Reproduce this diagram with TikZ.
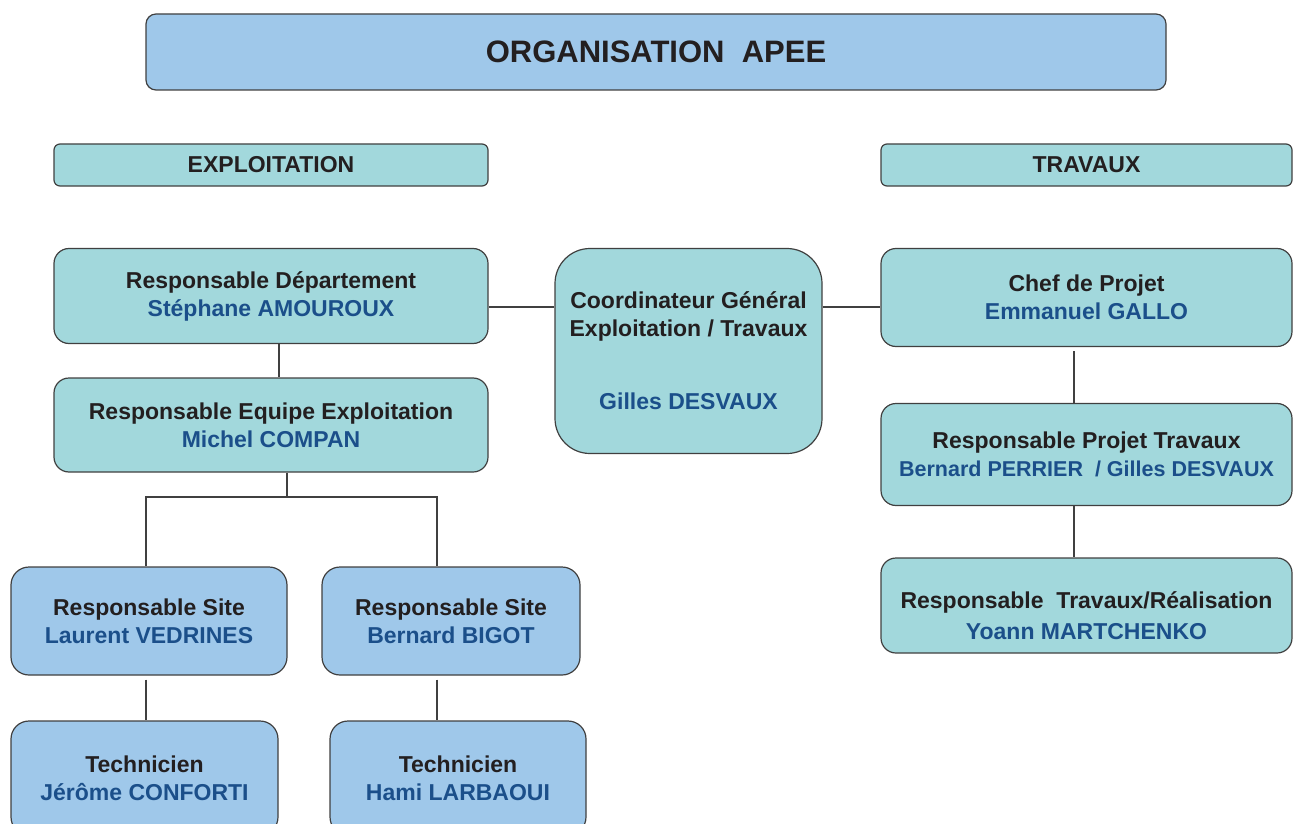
\documentclass[tikz,border=0pt]{standalone}
\usepackage{fontspec}
\setmainfont{Liberation Sans}
\usepackage{tikz}
\usetikzlibrary{shapes,arrows}
\definecolor{bl}{HTML}{9FC8EA}
\definecolor{tq}{HTML}{A2D8DC}
\definecolor{nb}{HTML}{1B4F8A}
\definecolor{tx}{HTML}{231F20}
\definecolor{ln}{HTML}{404040}
\tikzstyle{r} = [rectangle, rounded corners=15pt, draw=ln, line width=1.2pt, fill=tq, text=tx, align=center, inner sep=0pt, font=\bfseries\fontsize{23}{28}\selectfont]
\tikzstyle{h} = [r, rounded corners=6pt, minimum height=42pt]
\tikzstyle{s} = [r, fill=bl, rounded corners=18pt, minimum height=108pt]
\tikzstyle{l} = [draw=ln, line width=1.2pt]
\newcommand{\nm}[1]{\textcolor{nb}{#1}}

\begin{document}
\begin{tikzpicture}[x=1pt,y=-1pt]
		\useasboundingbox (0,0) rectangle (1301,824);
		\clip (0,0) rectangle (1301,824);
		\node[r,fill=bl,rounded corners=10pt,minimum width=1020pt,minimum height=76pt,font=\bfseries\fontsize{31}{36}\selectfont](1) at (656,52){ORGANISATION\ \ APEE};
		\node[h,minimum width=434pt](2) at (271,165){EXPLOITATION};
		\node[h,minimum width=411pt](3) at (1086.5,165){TRAVAUX};
		\node[r,minimum width=434pt,minimum height=95pt](4) at (271,296){Responsable Département\\\nm{Stéphane AMOUROUX}};
		\node[r,rounded corners=35pt,minimum width=267pt,minimum height=205pt](5) at (688.5,351){Coordinateur Général\\Exploitation / Travaux\\[45pt]\nm{Gilles DESVAUX}};
		\node[r,minimum width=411pt,minimum height=98pt](6) at (1086.5,297.5){Chef de Projet\\\nm{Emmanuel GALLO}};
		\node[r,minimum width=434pt,minimum height=94pt](7) at (271,425){Responsable Equipe Exploitation\\\nm{Michel COMPAN}};
		\node[r,minimum width=411pt,minimum height=102pt](8) at (1086.5,454.5){Responsable Projet Travaux\\\nm{\fontsize{21.5}{28}\selectfont Bernard PERRIER\ \ / Gilles DESVAUX}};
		\node[r,minimum width=411pt,minimum height=95pt](9) at (1086.5,605.5){\rule{0pt}{37pt}Responsable\ \ Travaux/Réalisation\\[3pt]\nm{Yoann MARTCHENKO}};
		\node[s,minimum width=276pt](10) at (149,621){Responsable Site\\\nm{Laurent VEDRINES}};
		\node[s,minimum width=258pt](11) at (451,621){Responsable Site\\\nm{Bernard BIGOT}};
		\node[s,minimum width=267pt,minimum height=114pt](12) at (144.5,778){Technicien\\\nm{Jérôme CONFORTI}};
		\node[s,minimum width=256pt,minimum height=114pt](13) at (458,778){Technicien\\\nm{Hami LARBAOUI}};
		\coordinate (b) at (287,497);
		\draw[l] ([yshift=-11pt]4.east) -- ([yshift=-11pt]4.east -| 5.west);
		\draw[l] ([yshift=-9.5pt]6.west -| 5.east) -- ([yshift=-9.5pt]6.west);
		\draw[l] ([xshift=8pt]4.south) -- ([xshift=8pt]7.north);
		\draw[l] ([xshift=16pt]7.south) -- (b);
		\draw[l] ([xshift=-3pt]10.north) |- (b) -| ([xshift=-14pt]11.north);
		\draw[l] ([xshift=-3pt,yshift=-4pt]10.south) -- ([xshift=1.5pt]12.north);
		\draw[l] ([xshift=-14pt,yshift=-4pt]11.south) -- ([xshift=-21pt]13.north);
		\draw[l] ([xshift=-12.5pt,yshift=-4pt]6.south) -- ([xshift=-12.5pt]8.north);
		\draw[l] ([xshift=-12.5pt]8.south) -- ([xshift=-12.5pt]9.north);
		\end{tikzpicture}
\end{document}
